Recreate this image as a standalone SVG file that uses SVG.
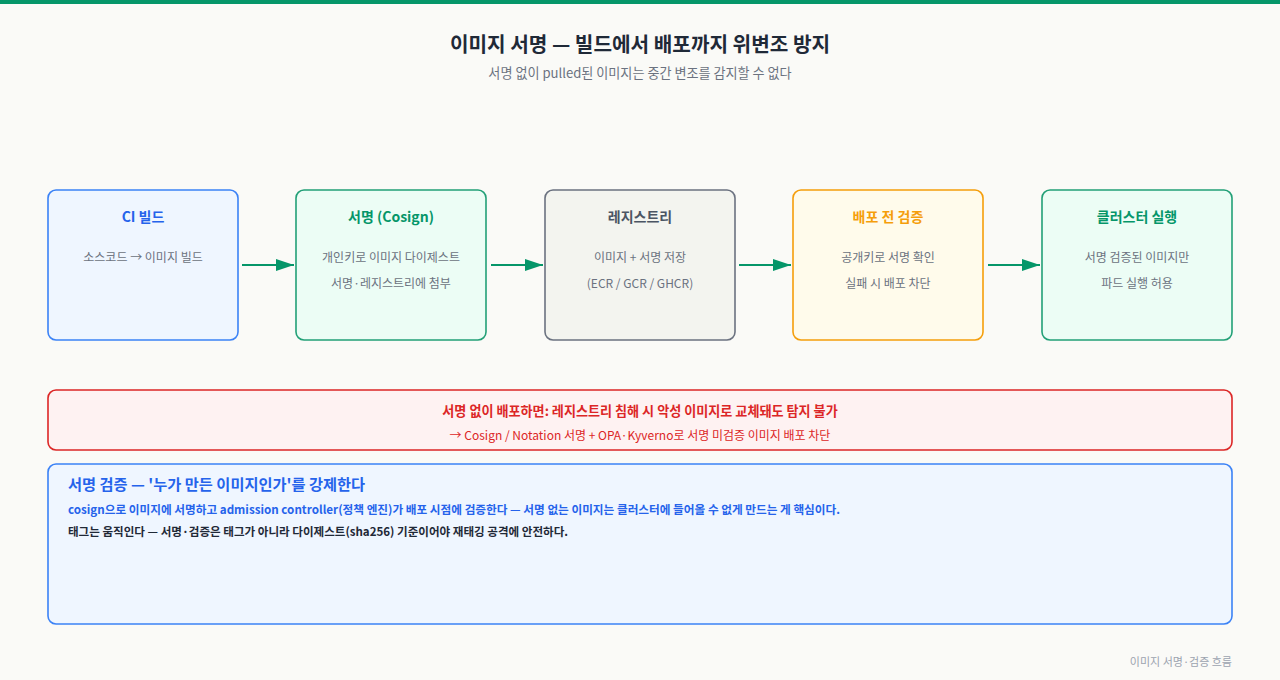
<svg xmlns="http://www.w3.org/2000/svg" width="1280" height="680" viewBox="0 0 1280 680">
<defs>
<style>
text{font-family:"Noto Sans CJK KR","Noto Sans",sans-serif;}
.ttl{font-size:20.2px;font-weight:700;fill:#1f2937;text-anchor:middle}
.sub{font-size:13.1px;fill:#6b7280;text-anchor:middle}
.box{stroke-width:1.6}
.nt{font-size:14px;font-weight:700;text-anchor:middle}
.nl{font-size:12px;fill:#6b7280;text-anchor:middle}
.conn{stroke:#059669;stroke-width:2;fill:none}
</style>
<marker id="ah2" viewBox="0 0 18 12" refX="18" refY="6" markerWidth="18" markerHeight="12" markerUnits="userSpaceOnUse" orient="auto"><path d="M0,0L18,6L0,12z" fill="#059669"/></marker>
</defs>
<rect width="1280" height="680" fill="#fafaf7"/>
<rect width="1280" height="4" fill="#059669"/>
<text class="ttl" x="640" y="52">이미지 서명 — 빌드에서 배포까지 위변조 방지</text>
<text class="sub" x="640" y="78">서명 없이 pulled된 이미지는 중간 변조를 감지할 수 없다</text>

<g id="connectors">
<line class="conn" x1="242" y1="265" x2="294" y2="265" marker-end="url(#ah2)"/>
<line class="conn" x1="491" y1="265" x2="543" y2="265" marker-end="url(#ah2)"/>
<line class="conn" x1="739" y1="265" x2="791" y2="265" marker-end="url(#ah2)"/>
<line class="conn" x1="988" y1="265" x2="1040" y2="265" marker-end="url(#ah2)"/>
</g>

<g id="node-ci">
<rect class="box" x="48" y="190" width="190" height="150" rx="8" fill="#eff6ff" stroke="#3b82f6"/>
<text class="nt" x="143" y="222" fill="#2563eb">CI 빌드</text>
<text class="nl" x="143" y="262">소스코드 → 이미지 빌드</text>
</g>
<g id="node-sign">
<rect class="box" x="296" y="190" width="190" height="150" rx="8" fill="#ecfdf5" stroke="#22a077"/>
<text class="nt" x="391" y="222" fill="#059669">서명 (Cosign)</text>
<text class="nl" x="391" y="262">개인키로 이미지 다이제스트</text>
<text class="nl" x="391" y="288">서명·레지스트리에 첨부</text>
</g>
<g id="node-registry">
<rect class="box" x="545" y="190" width="190" height="150" rx="8" fill="#f3f4ef" stroke="#6b7280"/>
<text class="nt" x="640" y="222" fill="#4b5563">레지스트리</text>
<text class="nl" x="640" y="262">이미지 + 서명 저장</text>
<text class="nl" x="640" y="288">(ECR / GCR / GHCR)</text>
</g>
<g id="node-verify">
<rect class="box" x="793" y="190" width="190" height="150" rx="8" fill="#fffbeb" stroke="#f59e0b"/>
<text class="nt" x="888" y="222" fill="#f59e0b">배포 전 검증</text>
<text class="nl" x="888" y="262">공개키로 서명 확인</text>
<text class="nl" x="888" y="288">실패 시 배포 차단</text>
</g>
<g id="node-cluster">
<rect class="box" x="1042" y="190" width="190" height="150" rx="8" fill="#ecfdf5" stroke="#22a077"/>
<text class="nt" x="1137" y="222" fill="#059669">클러스터 실행</text>
<text class="nl" x="1137" y="262">서명 검증된 이미지만</text>
<text class="nl" x="1137" y="288">파드 실행 허용</text>
</g>

<g id="warning">
<rect class="box" x="48" y="390" width="1184" height="60" rx="8" fill="#fef2f2" stroke="#dc2626"/>
<text x="640" y="416" font-size="13.1" font-weight="700" fill="#dc2626" text-anchor="middle">서명 없이 배포하면: 레지스트리 침해 시 악성 이미지로 교체돼도 탐지 불가</text>
<text x="640" y="440" font-size="12" fill="#dc2626" text-anchor="middle">→ Cosign / Notation 서명 + OPA·Kyverno로 서명 미검증 이미지 배포 차단</text>
</g>

<g id="info">
<rect class="box" x="48" y="464" width="1184" height="160" rx="8" fill="#eff6ff" stroke="#3b82f6"/>
<text x="68" y="490" font-size="15.25" font-weight="700" fill="#2563eb">서명 검증 — '누가 만든 이미지인가'를 강제한다</text>
<text x="68" y="514" font-size="11.65" font-weight="700" fill="#2563eb">cosign으로 이미지에 서명하고 admission controller(정책 엔진)가 배포 시점에 검증한다 — 서명 없는 이미지는 클러스터에 들어올 수 없게 만드는 게 핵심이다.</text>
<text x="68" y="536" font-size="11.55" font-weight="700" fill="#1f2937">태그는 움직인다 — 서명·검증은 태그가 아니라 다이제스트(sha256) 기준이어야 재태깅 공격에 안전하다.</text>
</g>

<text x="1232" y="666" font-size="11" fill="#9ca3af" text-anchor="end">이미지 서명·검증 흐름</text>
</svg>
